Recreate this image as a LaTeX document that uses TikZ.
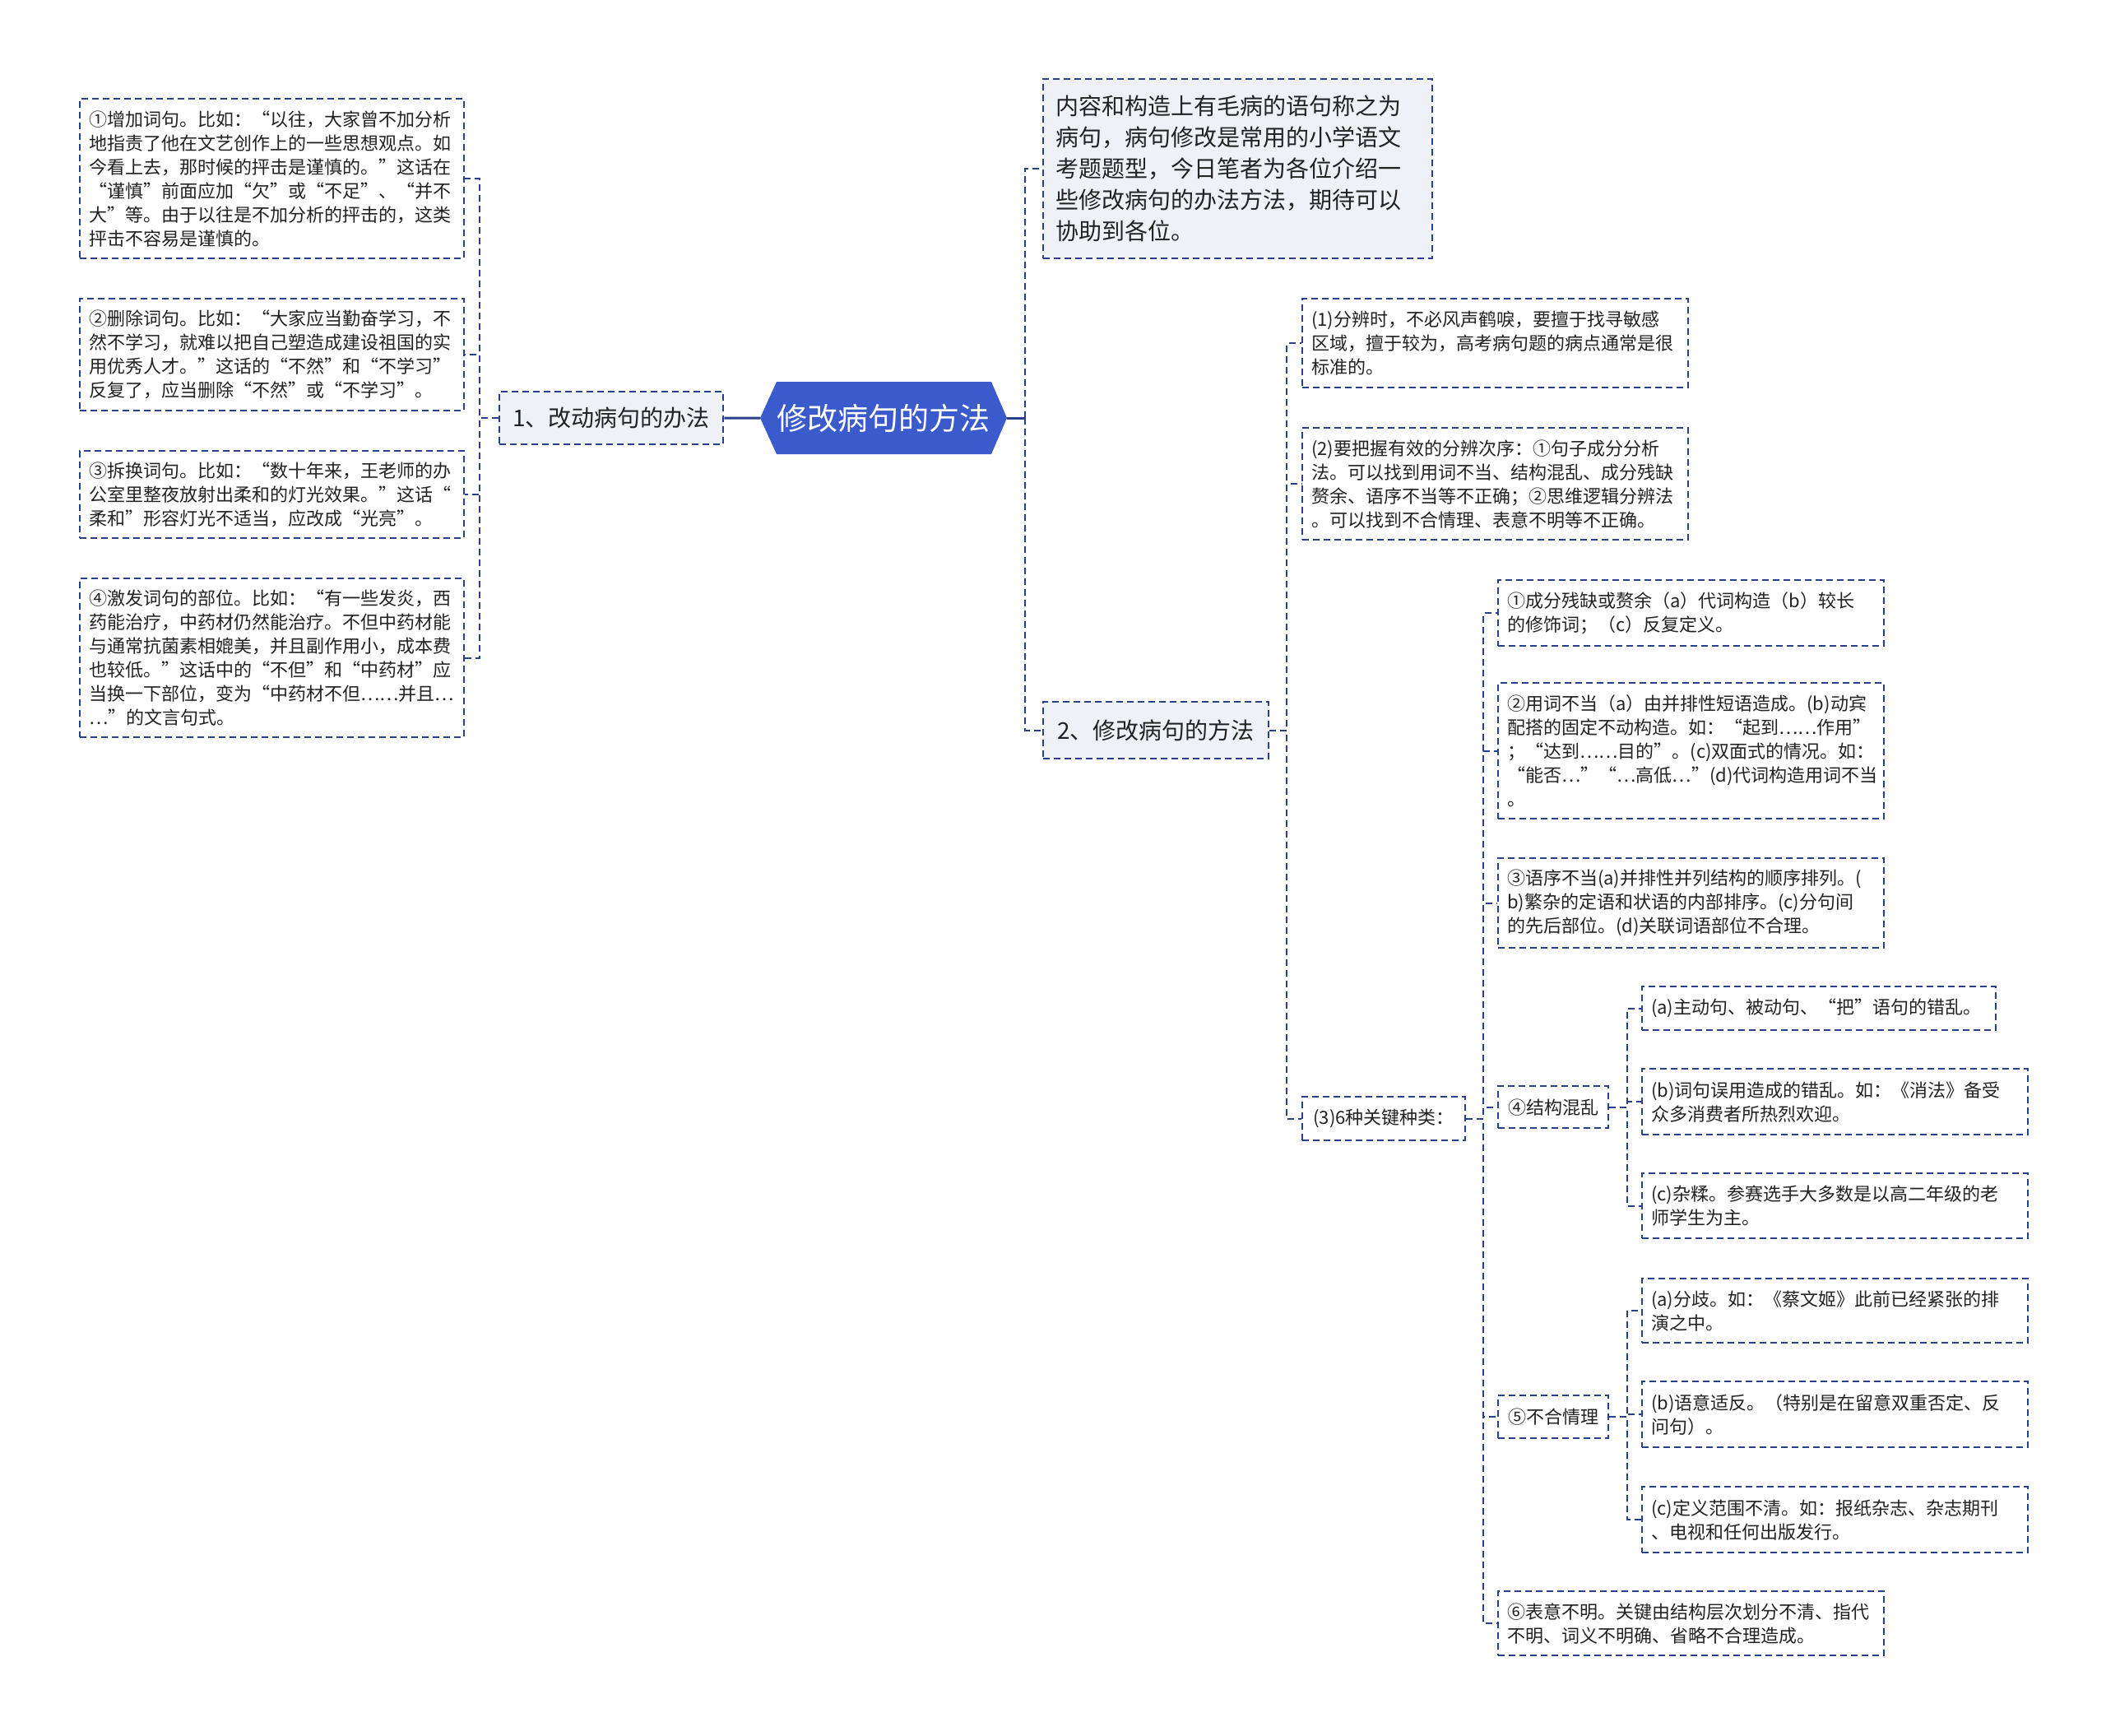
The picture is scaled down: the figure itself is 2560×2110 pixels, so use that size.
\documentclass[tikz,border=0pt]{standalone}
\usepackage{fontspec}
\setmainfont{Noto Sans CJK SC}
\definecolor{lc}{RGB}{38,64,140}
\definecolor{bg}{RGB}{238,241,246}
\definecolor{tc}{RGB}{34,34,34}
\definecolor{rootc}{RGB}{59,91,204}
\begin{document}
\begin{tikzpicture}[x=1pt,y=-1pt,
 lbox/.style={draw=lc, line width=2.3pt, dash pattern=on 8pt off 5pt, fill=white, text=tc,
   font=\fontsize{22}{29}\selectfont, align=left, anchor=north west, inner xsep=11pt, inner ysep=0pt},
 mbox/.style={lbox, fill=bg, font=\fontsize{28}{38}\selectfont},
 dconn/.style={draw=lc, line width=2.3pt, dash pattern=on 8pt off 5pt},
 sconn/.style={draw=lc, line width=3pt}]
\useasboundingbox[fill=white] (0,0) rectangle (2560,2110);

% root
\fill[rootc] (924,508) -- (944,464) -- (1205,464) -- (1224,508) -- (1205,552) -- (944,552) -- cycle;
\node[text=white, font=\fontsize{37}{40}\selectfont, minimum width=300pt, minimum height=88pt, inner sep=0pt] (root) at (1074,508) {修改病句的方法};

% left branch
\node[mbox, minimum width=272pt, minimum height=64pt] (B1) at (606,475) {1、改动病句的办法};
\node[lbox, text width=445pt, minimum height=194pt] (L1) at (96,119) {①增加词句。比如：“以往，大家曾不加分析\\地指责了他在文艺创作上的一些思想观点。如\\今看上去，那时候的抨击是谨慎的。”这话在\\“谨慎”前面应加“欠”或“不足”、“并不\\大”等。由于以往是不加分析的抨击的，这类\\抨击不容易是谨慎的。};
\node[lbox, text width=445pt, minimum height=136pt] (L2) at (96,362) {②删除词句。比如：“大家应当勤奋学习，不\\然不学习，就难以把自己塑造成建设祖国的实\\用优秀人才。”这话的“不然”和“不学习”\\反复了，应当删除“不然”或“不学习”。};
\node[lbox, text width=445pt, minimum height=106pt] (L3) at (96,547) {③拆换词句。比如：“数十年来，王老师的办\\公室里整夜放射出柔和的灯光效果。”这话“\\柔和”形容灯光不适当，应改成“光亮”。};
\node[lbox, text width=445pt, minimum height=193pt] (L4) at (96,702) {④激发词句的部位。比如：“有一些发炎，西\\药能治疗，中药材仍然能治疗。不但中药材能\\与通常抗菌素相媲美，并且副作用小，成本费\\也较低。”这话中的“不但”和“中药材”应\\当换一下部位，变为“中药材不但……并且…\\…”的文言句式。};

% right branch level 1
\node[mbox, text width=443pt, inner xsep=15pt, minimum height=218pt] (P) at (1267,95) {内容和构造上有毛病的语句称之为\\病句，病句修改是常用的小学语文\\考题题型，今日笔者为各位介绍一\\些修改病句的办法方法，期待可以\\协助到各位。};
\node[mbox, minimum width=274pt, minimum height=69pt] (B2) at (1267,852) {2、修改病句的方法};

% level 2
\node[lbox, text width=447pt, minimum height=108pt] (R1) at (1582,362) {(1)分辨时，不必风声鹤唳，要擅于找寻敏感\\区域，擅于较为，高考病句题的病点通常是很\\标准的。};
\node[lbox, text width=447pt, minimum height=136pt] (R2) at (1582,519) {(2)要把握有效的分辨次序：①句子成分分析\\法。可以找到用词不当、结构混乱、成分残缺\\赘余、语序不当等不正确；②思维逻辑分辨法\\。可以找到不合情理、表意不明等不正确。};
\node[lbox, minimum width=198pt, minimum height=53pt] (R3) at (1582,1332) {(3)6种关键种类：};

% level 3
\node[lbox, text width=447pt, minimum height=80pt] (S1) at (1820,704) {①成分残缺或赘余（a）代词构造（b）较长\\的修饰词；（c）反复定义。};
\node[lbox, text width=447pt, minimum height=165pt] (S2) at (1820,829) {②用词不当（a）由并排性短语造成。(b)动宾\\配搭的固定不动构造。如：“起到……作用”\\；“达到……目的”。(c)双面式的情况。如：\\“能否…”“…高低…”(d)代词构造用词不当\\。};
\node[lbox, text width=447pt, minimum height=109pt] (S3) at (1820,1042) {③语序不当(a)并排性并列结构的顺序排列。(\\b)繁杂的定语和状语的内部排序。(c)分句间\\的先后部位。(d)关联词语部位不合理。};
\node[lbox, minimum width=134pt, minimum height=51pt] (S4) at (1820,1319) {④结构混乱};
\node[lbox, minimum width=134pt, minimum height=52pt] (S5) at (1820,1695) {⑤不合情理};
\node[lbox, text width=447pt, minimum height=78pt] (S6) at (1820,1933) {⑥表意不明。关键由结构层次划分不清、指代\\不明、词义不明确、省略不合理造成。};

% level 4
\node[lbox, text width=408pt, minimum height=53pt] (T4a) at (1995,1198) {(a)主动句、被动句、“把”语句的错乱。};
\node[lbox, text width=447pt, minimum height=80pt] (T4b) at (1995,1298) {(b)词句误用造成的错乱。如：《消法》备受\\众多消费者所热烈欢迎。};
\node[lbox, text width=447pt, minimum height=79pt] (T4c) at (1995,1425) {(c)杂糅。参赛选手大多数是以高二年级的老\\师学生为主。};
\node[lbox, text width=447pt, minimum height=78pt] (T5a) at (1995,1553) {(a)分歧。如：《蔡文姬》此前已经紧张的排\\演之中。};
\node[lbox, text width=447pt, minimum height=80pt] (T5b) at (1995,1678) {(b)语意适反。（特别是在留意双重否定、反\\问句）。};
\node[lbox, text width=447pt, minimum height=80pt] (T5c) at (1995,1806) {(c)定义范围不清。如：报纸杂志、杂志期刊\\、电视和任何出版发行。};

% connectors
\draw[sconn] (root.west) -- (B1.east);
\foreach \n in {L1,L2,L3,L4}
  \draw[dconn] (B1.west) -- ([xshift=-23pt]B1.west) |- (\n.east);
\draw[sconn] (root.east) -- ([xshift=22pt]root.east);
\foreach \n in {P,B2}
  \draw[dconn] ([xshift=22pt]root.east) |- (\n.west);
\foreach \n in {R1,R2,R3}
  \draw[dconn] (B2.east) -- ([xshift=21pt]B2.east) |- (\n.west);
\foreach \n in {S1,S2,S3,S4,S5,S6}
  \draw[dconn] (R3.east) -- ([xshift=21pt]R3.east) |- (\n.west);
\foreach \n in {T4a,T4b,T4c}
  \draw[dconn] (S4.east) -- ([xshift=22pt]S4.east) |- (\n.west);
\foreach \n in {T5a,T5b,T5c}
  \draw[dconn] (S5.east) -- ([xshift=22pt]S5.east) |- (\n.west);
\end{tikzpicture}
\end{document}
